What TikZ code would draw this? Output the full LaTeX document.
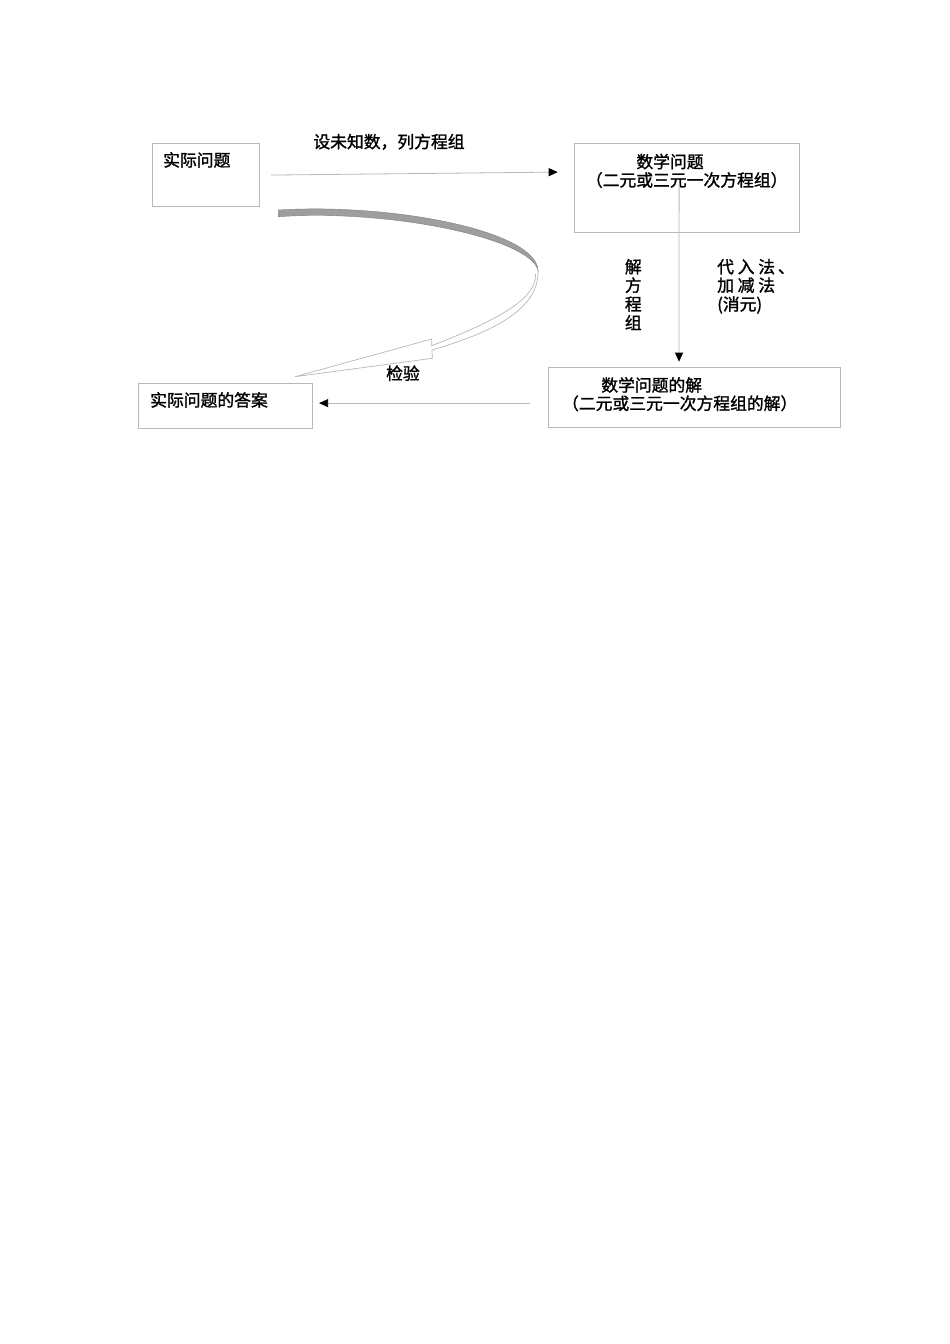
\documentclass[tikz,border=0pt]{standalone}
\usepackage{fontspec}
\setmainfont{Noto Sans CJK SC}[FakeBold=1.4, AutoFakeBold=1.4]
\usetikzlibrary{arrows.meta}
\definecolor{boxgray}{gray}{0.72}
\definecolor{linegray}{gray}{0.72}
\definecolor{bandgray}{gray}{0.62}
\definecolor{bandedge}{gray}{0.5}
\begin{document}
\begin{tikzpicture}[x=1pt,y=-1pt,
  box/.style={draw=boxgray, line width=0.8pt, inner sep=0pt, anchor=north west},
  lbl/.style={inner sep=0pt, anchor=base, font=\fontsize{16.8}{19}\selectfont\bfseries},
  lblw/.style={lbl, anchor=base west},
  conn/.style={draw=linegray, line width=0.8pt, -{Triangle[length=9pt,width=8pt,color=black,fill=black]}},
  curveline/.style={draw=linegray, line width=0.7pt}]
\useasboundingbox[fill=white] (0,0) rectangle (950,1344);
% boxes
\node[box, minimum width=107pt, minimum height=62.7pt] (b1) at (152.3,143.3) {};
\node[box, minimum width=225pt, minimum height=88.4pt] (b2) at (574.3,143.3) {};
\node[box, minimum width=291.7pt, minimum height=60pt] (b3) at (548.3,367.3) {};
\node[box, minimum width=173.4pt, minimum height=45pt] (b4) at (138.3,383.3) {};
% box texts
\node[lbl] (t1) at (196.8,166.4) {实际问题};
\node[lbl] (t2a) at (670,168) {数学问题};
\node[lbl] (t2b) at (686.7,186.4) {（二元或三元一次方程组）};
\node[lbl] (t3a) at (651.7,391.4) {数学问题的解};
\node[lbl] (t3b) at (679.7,409.7) {（二元或三元一次方程组的解）};
\node[lbl] (t4) at (209,406.4) {实际问题的答案};
% connectors
\draw[conn] ([xshift=11pt]b1.east) -- ([xshift=-16.6pt,yshift=15.8pt]b2.west);
\draw[conn] ([xshift=-8.1pt,yshift=4.5pt]b2.center) -- ([xshift=-15.5pt,yshift=5.6pt]b3.north);
\draw[conn] ([xshift=-18.3pt,yshift=-5.4pt]b3.west) -- ([xshift=6.6pt,yshift=3.1pt]b4.east);
% connector labels
\node[lbl] (l1) at (389,148) {设未知数，列方程组};
\node[lbl] (v1) at (633.3,273.1) {解};
\node[lbl] (v2) at (633.3,291.6) {方};
\node[lbl] (v3) at (633.3,310.4) {程};
\node[lbl] (v4) at (633.3,329.1) {组};
\node[lblw] (m1) at (717,273.1) {代 入 法\,、};
\node[lblw] (m2) at (717,291.6) {加 减 法};
\node[lblw] (m3) at (717,310.4) {(消元)};
\node[lbl] (l2) at (403,379.7) {检验};
% curved block arrow
\fill[bandgray, draw=bandedge, line width=0.4pt]
  (278.3,210) .. controls (390,203) and (535,230) .. (538,270)
  .. controls (529,238) and (390,209) .. (278.3,216.7) -- cycle;
\draw[curveline]
  (538,270) .. controls (540,310) and (490,333) .. (432,350)
  -- (432.3,358.3) -- (295,376.7) -- (431.7,339) -- (431.7,345.7)
  .. controls (482,326) and (538,302) .. (535.5,274);
\end{tikzpicture}
\end{document}
